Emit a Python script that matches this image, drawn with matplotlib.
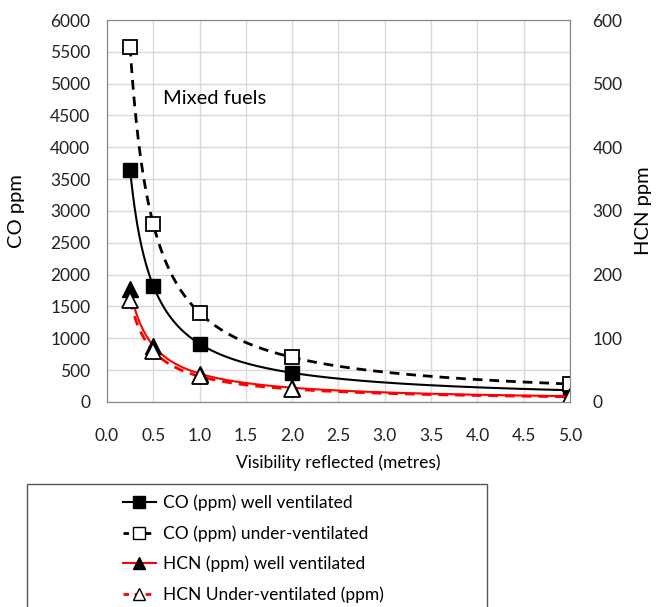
import numpy as np
import matplotlib
matplotlib.use("Agg")
import matplotlib.pyplot as plt
from matplotlib.lines import Line2D
from matplotlib.patches import Rectangle

plt.rcParams['font.family'] = ['Lato', 'DejaVu Sans']

# data
visibility = [0.25, 0.5, 1.0, 2.0, 5.0]
co_well = [3650, 1825, 912, 456, 182]
co_under = [5580, 2790, 1400, 700, 280]
hcn_well = [178, 88, 44, 22, 9]
hcn_under = [160, 80, 40, 20, 8]

x_ticks = np.arange(0, 5.01, 0.5)


def power_fit(x, y):
    # Excel-style power trendline fitted to the points
    b, a = np.polyfit(np.log(x), np.log(y), 1)
    xs = np.linspace(min(x), max(x), 300)
    return xs, np.exp(a) * xs ** b


fig = plt.figure(figsize=(6.56, 6.07), dpi=100)
ax = fig.add_axes([0.163, 0.338, 0.706, 0.629])
ax2 = ax.twinx()

# CO on left axis
xs, ys = power_fit(visibility, co_well)
ax.plot(xs, ys, color='black', lw=1.5)
ax.plot(visibility, co_well, 's', color='black', ms=10, mec='black')
xs, ys = power_fit(visibility, co_under)
ax.plot(xs, ys, color='black', lw=2, ls=(0, (3.5, 2.5)))
ax.plot(visibility, co_under, 's', mfc='white', mec='black', ms=10, mew=1.3)

# HCN on right axis
xs, ys = power_fit(visibility, hcn_under)
ax2.plot(xs, ys, color='red', lw=2, ls=(0, (3.5, 2.5)))
xs, ys = power_fit(visibility, hcn_well)
ax2.plot(xs, ys, color='red', lw=1.5)
ax2.plot(visibility, hcn_well, '^', color='black', ms=11)
ax2.plot(visibility, hcn_under, '^', mfc='white', mec='black', ms=11, mew=1.3)

ax.set_xlim(0, 5)
ax.set_ylim(0, 6000)
ax2.set_ylim(0, 600)
ax.set_xticks(x_ticks)
ax.set_xticklabels([f'{v:.1f}' for v in x_ticks])
ax.set_yticks(np.arange(0, 6001, 500))
ax2.set_yticks(np.arange(0, 601, 100))

ax.grid(True, color='#d9d9d9', lw=1)
ax.set_axisbelow(True)
for a in (ax, ax2):
    a.tick_params(length=0, labelsize=12.5, colors='#222222')
    for s in a.spines.values():
        s.set_color('#888888')
ax.tick_params(axis='y', pad=12)
ax.tick_params(axis='x', pad=19)
ax2.tick_params(pad=16)

ax.set_xlabel('Visibility reflected (metres)', fontsize=12.5, labelpad=7)
ax.set_ylabel('CO ppm', fontsize=14.5, labelpad=18)
ax2.set_ylabel('HCN ppm', fontsize=14.5, labelpad=9)

ax.text(0.6, 4760, 'Mixed fuels', fontsize=14.5, va='center')

# legend box running off the bottom of the figure
fig.patches.append(Rectangle((0.041, -0.1), 0.701, 0.303, transform=fig.transFigure,
                             fill=False, ec='#555555', lw=1))
handles = [
    Line2D([], [], color='black', lw=1.5, marker='s', ms=8),
    Line2D([], [], color='black', lw=2, ls=(0, (2, 2)), marker='s', mfc='white', mec='black', ms=8),
    Line2D([], [], color='red', lw=1.5, marker='^', mfc='black', mec='black', ms=9),
    Line2D([], [], color='red', lw=2, ls=(0, (2, 2)), marker='^', mfc='white', mec='black', ms=9),
]
labels = ['CO (ppm) well ventilated', 'CO (ppm) under-ventilated',
          'HCN (ppm) well ventilated', 'HCN Under-ventilated (ppm)']
fig.legend(handles, labels, loc='upper left', bbox_to_anchor=(0.174, 0.2),
           frameon=False, fontsize=12.5, handlelength=1.9, handletextpad=0.4,
           labelspacing=0.82, borderpad=0)

fig.savefig('out.png', dpi=100)
